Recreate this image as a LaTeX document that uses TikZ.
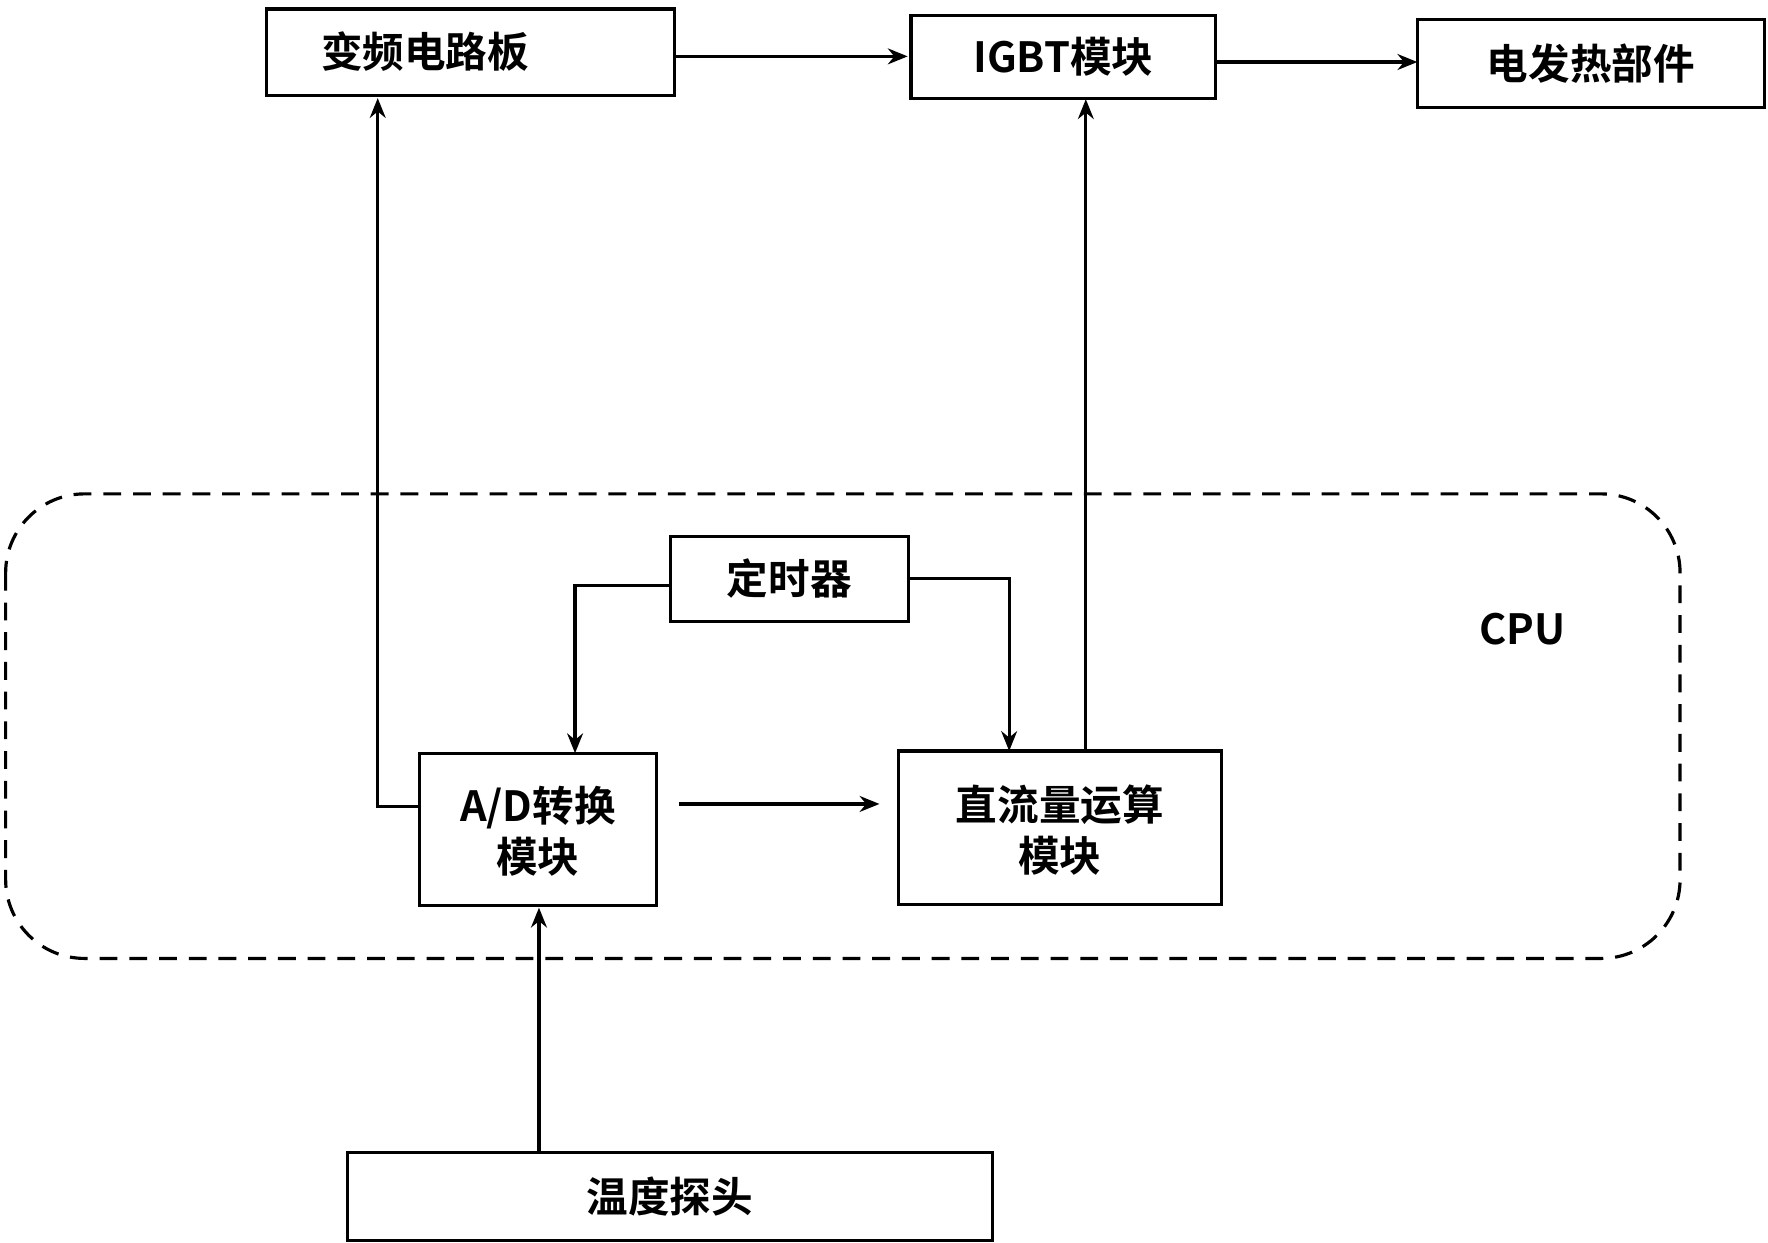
\documentclass[tikz,border=0pt]{standalone}
\usepackage{fontspec}
\setmainfont{Noto Sans CJK SC Bold}
\usetikzlibrary{arrows.meta}
\begin{document}
\begin{tikzpicture}[x=0.02cm,y=-0.02cm,
  box/.style={draw,line width=1.6pt},
  txt/.style={font=\fontsize{21}{26}\selectfont,align=center},
  arr/.style={line width=1.6pt,-{Stealth[length=10pt,width=8pt]}}]
\useasboundingbox (0,0) rectangle (1568,1102);
\draw[box] (236,8) rectangle (598,85) coordinate (a1);
\coordinate (bp) at (236,8);
\node[txt] (t1) at (377,46) {变频电路板};
\draw[box] (808,14) rectangle (1078,87);
\node[txt] (t2) at (943,50) {IGBT模块};
\draw[box] (1257,17) rectangle (1565,95);
\node[txt] (t3) at (1411,56) {电发热部件};
\draw[box] (595,476) rectangle (806,551);
\node[txt] (t4) at (700,513) {定时器};
\draw[box] (372,668) rectangle (582,803);
\node[txt] (t5) at (477,737) {A/D转换\\模块};
\draw[box] (797,666) rectangle (1083,802);
\node[txt] (t6) at (940,736) {直流量运算\\模块};
\draw[box] (308,1022) rectangle (880,1100);
\node[txt] (t7) at (594,1061) {温度探头};
\draw[line width=1.6pt,dash pattern=on 9pt off 6pt,rounded corners=70*0.02cm] (5,438) rectangle (1490,850);
\node[txt] (cpu) at (1350,558) {CPU};
\coordinate (p1) at (598,50); \coordinate (p2) at (805,50);
\draw[arr] (p1) -- (p2);
\coordinate (p3) at (1078,55); \coordinate (p4) at (1257,55);
\draw[arr] (p3) -- (p4);
\coordinate (p5) at (372,715); \coordinate (p6) at (335,87);
\draw[arr] (p5) -| (p6);
\coordinate (p7) at (963,666); \coordinate (p8) at (963,88);
\draw[arr] (p7) -- (p8);
\coordinate (p9) at (595,519); \coordinate (p10) at (510,668);
\draw[arr] (p9) -| (p10);
\coordinate (p11) at (806,513); \coordinate (p12) at (895,666);
\draw[arr] (p11) -| (p12);
\coordinate (p13) at (602,713); \coordinate (p14) at (780,713);
\draw[arr] (p13) -- (p14);
\coordinate (p15) at (478,1022); \coordinate (p16) at (478,805);
\draw[arr] (p15) -- (p16);
\end{tikzpicture}
\end{document}
